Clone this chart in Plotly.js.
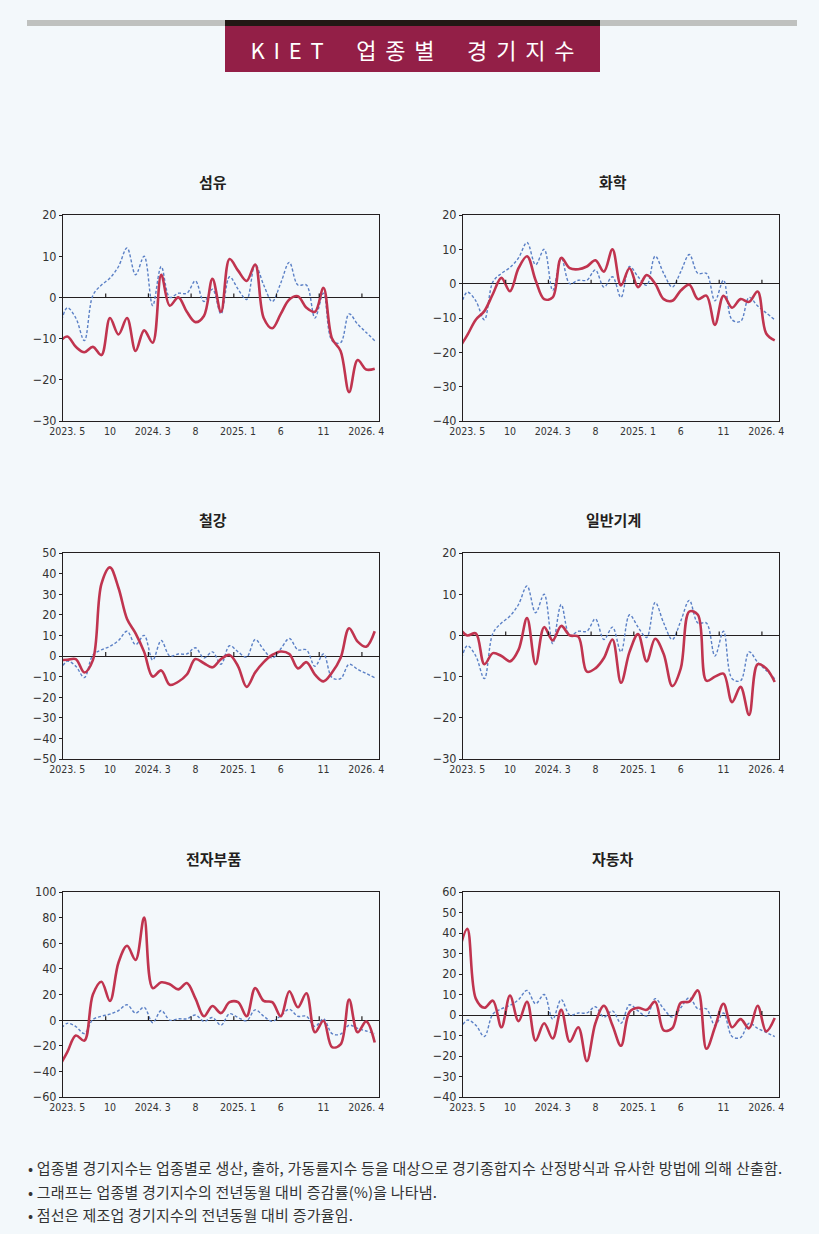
<!DOCTYPE html>
<html>
<head>
<meta charset="utf-8">
<script src="https://cdn.plot.ly/plotly-3.0.1.min.js"></script>
<style>
  body { margin: 0; background: #f3f8fb; }
  #page { position: relative; width: 819px; height: 1234px; overflow: hidden; }
  #chart { position: absolute; left: 0; top: 0; width: 819px; height: 1234px; }
  .bar { position: absolute; }
  #head { position: absolute; left: 225px; top: 26px; width: 375px; height: 46px; background: #931f47;
          color: #fff; font: 22px "Noto Sans CJK KR", sans-serif; line-height: 46px; text-align: center;
          letter-spacing: 0.4em; word-spacing: 10px; text-indent: 0.4em; white-space: nowrap; }
  .note { position: absolute; left: 28px; font: 15px "Noto Sans CJK KR", sans-serif; color: #333;
          letter-spacing: 0.2px; white-space: nowrap; }
</style>
</head>
<body>
<div id="page">
  <div id="chart"></div>
  <div class="bar" style="left:27px;top:20px;width:770px;height:6px;background:#bfc1bf"></div>
  <div class="bar" style="left:225px;top:20px;width:375px;height:6px;background:#231815"></div>
  <div id="head">KIET 업종별 경기지수</div>
  <div class="note" style="top:1157px">• 업종별 경기지수는 업종별로 생산, 출하, 가동률지수 등을 대상으로 경기종합지수 산정방식과 유사한 방법에 의해 산출함.</div>
  <div class="note" style="top:1181px">• 그래프는 업종별 경기지수의 전년동월 대비 증감률(%)을 나타냄.</div>
  <div class="note" style="top:1204px">• 점선은 제조업 경기지수의 전년동월 대비 증가율임.</div>
</div>
<script>
// 월 (2023.4 ~ 2026.5), 그래프는 2023.5부터 보임
const months = ['2023.4', '2023.5', '2023.6', '2023.7', '2023.8', '2023.9', '2023.10', '2023.11', '2023.12',
  '2024.1', '2024.2', '2024.3', '2024.4', '2024.5', '2024.6', '2024.7', '2024.8', '2024.9', '2024.10', '2024.11', '2024.12',
  '2025.1', '2025.2', '2025.3', '2025.4', '2025.5', '2025.6', '2025.7', '2025.8', '2025.9', '2025.10', '2025.11', '2025.12',
  '2026.1', '2026.2', '2026.3', '2026.4', '2026.5'];
const tickMonths = ['2023.5', '2023.10', '2024.3', '2024.8', '2025.1', '2025.6', '2025.11', '2026.4'];
const tickText = ['2023. 5', '10', '2024. 3', '8', '2025. 1', '6', '11', '2026. 4'];

// 제조업 (점선)
const manufacturing = [-9, -2.5, -5, -10.5, 0.5, 3, 4.7, 7.5, 12, 5.5, 10, -2, 7.5, 0, 1, 1, 4, -1, 2, -4,
  5, 2, -0.5, 8, 3, -1, 3.5, 8.5, 3, 3, -5, 1, -10.5, -11, -4, -6.5, -8.5, -10.5];

// 업종별 (실선)
const textile = [-11, -9.5, -12, -13.3, -12, -14, -5, -9, -5, -13, -8, -11, 5.5, -2, 0, -3.5, -6, -4.5, 4.5, -3.5,
  9.3, 6.5, 4, 8, -5, -7.5, -4, -0.5, 0.3, -2.5, -3.5, 2.3, -10, -13, -23, -15.2, -17.5, -17.3];
const chemical = [-19, -15, -10.5, -8, -3, 1.7, -2.2, 4.5, 8, 1, -4.5, -4, 7.5, 4.5, 4.2, 5, 6.8, 3.5, 10, -0.5,
  4.5, -1, 2.5, 0, -4.5, -5, -2, -0.3, -4.5, -3.5, -12, -3.5, -7, -4.5, -5.3, -2.3, -14.5, -16.5];
const steel = [-2, -1.8, -1.5, -8, -2, 35, 43, 33, 18, 11, 2, -10, -7, -14, -12.5, -9, -1.5, -3.5, -5.5, -1.5,
  0.5, -5, -15, -8, -3, 0.5, 2.2, 1, -6, -3, -9, -12.3, -8, -1, 13.5, 7, 4.5, 12];
const machinery = [2, 0, 0.5, -7, -4.3, -5, -6.3, -3.5, 4.2, -7, 2, -1.2, 2.3, 0, -0.3, -8.8, -8, -5.5, -1, -11.5,
  -4, 0.3, -6.3, -0.8, -4.5, -12.3, -8, 5.8, 5, -11, -10, -9.3, -16.2, -12.5, -19.3, -7, -8, -11.3];
const electronics = [-37, -25, -12, -16, 20, 30, 15, 45, 58, 47, 80, 25, 29.5, 28, 24, 29, 17, 3, 11, 5.5,
  14, 14, 3, 25, 15, 14, 3, 22.5, 10, 21, -9.5, -0.5, -21, -19, 16, -9.5, -1, -17.5];
const automobile = [30, 42, 8, 3.5, 7, -6, 9.5, -3, 6.5, -12.5, -4, -11.5, 2.5, -13, -6, -22.5, -4, 4.5, -5, -15,
  1.5, 3.5, 2.5, 6.5, -7.5, -6.5, 6, 6.5, 12, -16.5, -6, 5.5, -6, -2, -6.5, 4.5, -8, -1.5];

const titles = ['섬유', '화학', '철강', '일반기계', '전자부품', '자동차'];
const series = [textile, chemical, steel, machinery, electronics, automobile];
const yRanges = [[-30, 20], [-40, 20], [-50, 50], [-30, 20], [-60, 100], [-40, 60]];
const yDticks = [10, 10, 10, 10, 20, 10];

const W = 819, H = 1234;
const cols = [[63, 379], [463, 779]];
const rows = [[215, 421], [553, 759], [892, 1097]];
const ink = '#231f20';
const numFont = 'Liberation Sans Narrow, DejaVu Sans Condensed, sans-serif';

// 각 월은 한 칸의 가운데에 찍힘
const xs = months.map((m, i) => i - 0.5);
const tickVals = tickMonths.map(m => months.indexOf(m) - 0.5);

const traces = [];
const layout = {
  width: W, height: H,
  margin: { l: 0, r: 0, t: 0, b: 0 },
  paper_bgcolor: '#f3f8fb',
  plot_bgcolor: '#f3f8fb',
  showlegend: false,
  annotations: [],
  shapes: [],
};

series.forEach((vals, k) => {
  const s = k === 0 ? '' : String(k + 1);
  const col = cols[k % 2], row = rows[Math.floor(k / 2)];

  traces.push({
    x: xs, y: manufacturing, xaxis: 'x' + s, yaxis: 'y' + s,
    mode: 'lines', line: { color: '#5b80c6', width: 1.4, dash: '3px,2px', shape: 'spline', smoothing: 1 },
    hoverinfo: 'skip',
  });
  traces.push({
    x: xs, y: vals, xaxis: 'x' + s, yaxis: 'y' + s,
    mode: 'lines', line: { color: '#c0344f', width: 2.6, shape: 'spline', smoothing: 1 },
    hoverinfo: 'skip',
  });

  layout['xaxis' + s] = {
    domain: [col[0] / W, col[1] / W],
    anchor: 'y' + s,
    range: [0, 37],
    tickvals: tickVals,
    ticktext: tickText,
    ticks: '',
    showline: true, mirror: true, linecolor: ink, linewidth: 1,
    showgrid: false, zeroline: false,
    tickfont: { family: numFont, size: 10.5, color: '#333' },
    fixedrange: true,
  };
  layout['yaxis' + s] = {
    domain: [1 - row[1] / H, 1 - row[0] / H],
    anchor: 'x' + s,
    range: yRanges[k],
    dtick: yDticks[k], tick0: 0,
    ticks: 'outside', ticklen: 3, tickcolor: ink,
    showline: true, mirror: true, linecolor: ink, linewidth: 1,
    showgrid: false,
    zeroline: true, zerolinecolor: ink, zerolinewidth: 1,
    tickfont: { family: numFont, size: 12.5, color: '#333' },
    fixedrange: true,
  };

  // 0선 위 눈금 (칸 경계)
  tickVals.slice(1).forEach(v => {
    layout.shapes.push({
      type: 'line', xref: 'x' + s, yref: 'y' + s,
      x0: v - 0.5, x1: v - 0.5,
      ysizemode: 'pixel', yanchor: 0, y0: 0, y1: 4,
      line: { color: ink, width: 1.2 },
    });
  });

  layout.annotations.push({
    text: titles[k], xref: 'paper', yref: 'paper',
    x: ((col[0] + col[1]) / 2 - 8) / W, y: 1 - (row[0] - 34) / H,
    showarrow: false, xanchor: 'center', yanchor: 'middle',
    font: { family: 'Noto Sans CJK KR', size: 15, color: ink, weight: 700 },
  });
});

Plotly.newPlot('chart', traces, layout, { staticPlot: true });
</script>
</body>
</html>
